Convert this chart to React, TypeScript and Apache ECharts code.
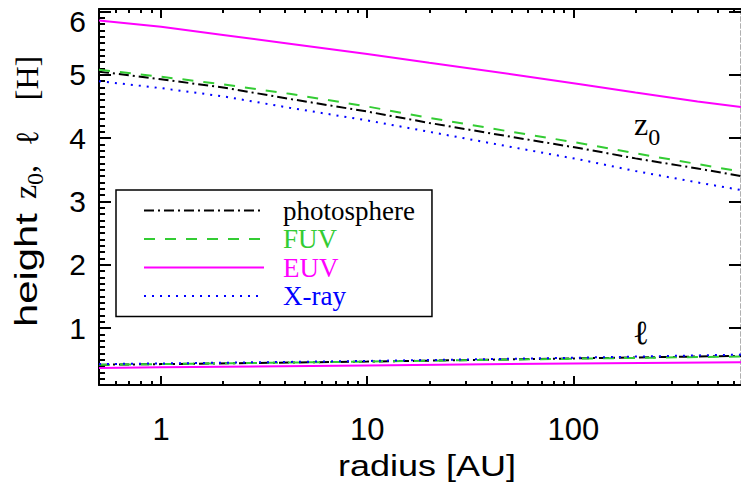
import React, { useEffect, useRef } from 'react';
import * as echarts from 'echarts';

// ---- data ----
const radiusZ0 = [0.5, 1, 2, 4.2, 10, 20, 50, 108, 200, 400, 650];
const photosphereZ0 = [5.05, 4.93, 4.8, 4.62, 4.42, 4.24, 4.02, 3.84, 3.68, 3.52, 3.4];
const fuvZ0 = [5.08, 4.97, 4.85, 4.7, 4.5, 4.32, 4.1, 3.92, 3.76, 3.59, 3.47];
const euvZ0 = [5.86, 5.76, 5.63, 5.49, 5.33, 5.19, 5.01, 4.85, 4.72, 4.58, 4.49];
const xrayZ0 = [4.9, 4.79, 4.66, 4.48, 4.28, 4.1, 3.86, 3.66, 3.48, 3.3, 3.18];

const radiusEll = [0.5, 1, 10, 100, 650];
const photosphereEll = [0.42, 0.43, 0.47, 0.52, 0.56];
const fuvEll = [0.42, 0.43, 0.47, 0.515, 0.55];
const euvEll = [0.37, 0.38, 0.41, 0.44, 0.46];
const xrayEll = [0.43, 0.44, 0.48, 0.53, 0.58];

const bandNames = ['photosphere', 'FUV', 'EUV', 'X-ray'];
const bandColors = ['#000000', '#33cc33', '#ff00ff', '#0000ff'];

const xMajorTicks = [1, 10, 100];
const xMinorTicks = [0.6, 0.7, 0.8, 0.9, 2, 3, 4, 5, 6, 7, 8, 9, 20, 30, 40, 50, 60, 70, 80, 90, 200, 300, 400, 500, 600];
const yMajorTicks = [1, 2, 3, 4, 5, 6];
const yMinorTicks = [
  0.2, 0.3, 0.4, 0.5, 0.6, 0.7, 0.8, 0.9,
  1.1, 1.2, 1.3, 1.4, 1.5, 1.6, 1.7, 1.8, 1.9,
  2.1, 2.2, 2.3, 2.4, 2.5, 2.6, 2.7, 2.8, 2.9,
  3.1, 3.2, 3.3, 3.4, 3.5, 3.6, 3.7, 3.8, 3.9,
  4.1, 4.2, 4.3, 4.4, 4.5, 4.6, 4.7, 4.8, 4.9,
  5.1, 5.2, 5.3, 5.4, 5.5, 5.6, 5.7, 5.8, 5.9, 6.0,
];

const X_MIN = 0.5;
const X_MAX = 650;
const Y_MIN = 0.1;
const Y_MAX = 6.04;

const SANS = '"Liberation Sans", Arial, sans-serif';
const SERIF = '"Liberation Serif", "Times New Roman", serif';

const bandDash: any[] = [[10, 4, 2, 4], [11, 10], 'solid', [2, 6]];

function xAxisDef(position: 'top' | 'bottom', major: boolean, withLabels: boolean) {
  return {
    type: 'log',
    logBase: 10,
    min: X_MIN,
    max: X_MAX,
    position,
    splitLine: { show: false },
    minorTick: { show: false },
    axisLine: { show: major, onZero: false, lineStyle: { color: '#000', width: 2 } },
    axisTick: {
      show: true,
      inside: true,
      length: major ? 9 : 4,
      lineStyle: { color: '#000', width: 2 },
      customValues: major ? xMajorTicks : xMinorTicks,
    },
    axisLabel: withLabels
      ? {
          show: true,
          customValues: xMajorTicks,
          color: '#000',
          fontSize: 31,
          fontFamily: SANS,
          margin: 29,
          formatter: (v: number) => String(v),
        }
      : { show: false },
  };
}

function yAxisDef(position: 'left' | 'right', major: boolean, withLabels: boolean, line: any) {
  return {
    type: 'value',
    min: Y_MIN,
    max: Y_MAX,
    position,
    splitLine: { show: false },
    axisLine: line,
    axisTick: {
      show: true,
      inside: true,
      length: major ? 12 : 6,
      lineStyle: { color: '#000', width: 2 },
      customValues: major ? yMajorTicks : yMinorTicks,
    },
    axisLabel: withLabels
      ? {
          show: true,
          customValues: yMajorTicks,
          color: '#000',
          fontSize: 30,
          fontFamily: SANS,
          margin: 13,
          formatter: (v: number) => {
            const n = Math.round(v);
            return n === 6 ? '{t|6}' : String(n);
          },
          rich: {
            t: { fontSize: 30, fontFamily: SANS, color: '#000', padding: [19, 0, 0, 0] },
          },
        }
      : { show: false },
  };
}

export default function App() {
  const ref = useRef<HTMLDivElement>(null);
  useEffect(() => {
    if (!ref.current) return;
    const chart = echarts.init(ref.current, undefined, { renderer: 'svg' });

    const series: any[] = [];
    const z0Sets = [photosphereZ0, fuvZ0, euvZ0, xrayZ0];
    const ellSets = [photosphereEll, fuvEll, euvEll, xrayEll];
    [2, 0, 1, 3].forEach((i) => {
      series.push({
        name: bandNames[i],
        type: 'line',
        xAxisIndex: 0,
        yAxisIndex: 0,
        symbol: 'none',
        showSymbol: false,
        data: radiusZ0.map((r, k) => [r, z0Sets[i][k]]),
        lineStyle: { color: bandColors[i], width: 2, type: bandDash[i] },
        itemStyle: { color: bandColors[i] },
      });
    });
    [2, 0, 1, 3].forEach((i) => {
      series.push({
        name: bandNames[i],
        type: 'line',
        xAxisIndex: 0,
        yAxisIndex: 0,
        symbol: 'none',
        showSymbol: false,
        data: radiusEll.map((r, k) => [r, ellSets[i][k]]),
        lineStyle: { color: bandColors[i], width: 2, type: bandDash[i] },
        itemStyle: { color: bandColors[i] },
      });
    });

    const subRich = (pad: number) => ({
      z: { fontFamily: SERIF, fontSize: 32, lineHeight: 32, fill: '#000', color: '#000' },
      s: { fontFamily: SERIF, fontSize: 24, lineHeight: 24, padding: [pad, 0, 0, 0], fill: '#000', color: '#000' },
    });

    chart.setOption({
      animation: false,
      backgroundColor: '#ffffff',
      grid: { left: 99, right: 0, top: 9, bottom: 104, containLabel: false, outerBoundsMode: 'none' },
      xAxis: [
        xAxisDef('bottom', true, true),
        xAxisDef('bottom', false, false),
        xAxisDef('top', true, false),
        xAxisDef('top', false, false),
      ],
      yAxis: [
        yAxisDef('left', true, true, { show: true, onZero: false, lineStyle: { color: '#000', width: 2 } }),
        yAxisDef('left', false, false, { show: false, onZero: false }),
        yAxisDef('right', true, false, { show: true, onZero: false, lineStyle: { color: '#b0b0b0', width: 2, type: [4, 3] } }),
      ],
      legend: {
        show: true,
        orient: 'vertical',
        left: 116,
        top: 190,
        padding: [7, 17, 7, 27],
        itemWidth: 120,
        itemHeight: 14,
        itemGap: 1.5,
        borderColor: '#000',
        borderWidth: 1.5,
        selectedMode: false,
        itemStyle: { opacity: 0, color: 'transparent', borderWidth: 0 },
        textStyle: { fontFamily: SERIF, fontSize: 27, padding: [0, 0, 0, 14] },
        data: bandNames.map((n, i) => ({ name: n, textStyle: { color: bandColors[i] } })),
      },
      graphic: [
        {
          type: 'text',
          x: 427,
          y: 466,
          scaleX: 1.2,
          style: { text: 'radius [AU]', fontFamily: SANS, fontSize: 30, fill: '#000', align: 'center', verticalAlign: 'middle' },
        },
        {
          type: 'text',
          x: 26,
          y: 270,
          rotation: Math.PI / 2,
          scaleX: 1.35,
          style: { text: 'height', fontFamily: SANS, fontSize: 31, fill: '#000', align: 'center', verticalAlign: 'middle' },
        },
        {
          type: 'text',
          x: 25,
          y: 182,
          rotation: Math.PI / 2,
          style: { text: '{z|z}{s|0}{z|,}', rich: subRich(20), fill: '#000', align: 'center', verticalAlign: 'middle' },
        },
        {
          type: 'text',
          x: 27,
          y: 138,
          rotation: Math.PI / 2,
          style: { text: 'ℓ', fontFamily: SERIF, fontSize: 32, fill: '#000', align: 'center', verticalAlign: 'middle' },
        },
        {
          type: 'text',
          x: 27,
          y: 78,
          rotation: Math.PI / 2,
          style: { text: '[H]', fontFamily: SERIF, fontSize: 32, fill: '#000', align: 'center', verticalAlign: 'middle' },
        },
        {
          type: 'text',
          x: 634,
          y: 124,
          style: { text: '{z|z}{s|0}', rich: subRich(25), fill: '#000', align: 'left', verticalAlign: 'middle' },
        },
        {
          type: 'text',
          x: 641,
          y: 332,
          style: { text: 'ℓ', fontFamily: SERIF, fontSize: 34, fill: '#000', align: 'center', verticalAlign: 'middle' },
        },
      ],
      series,
    });

    return () => {
      chart.dispose();
    };
  }, []);

  return <div ref={ref} style={{ position: 'fixed', left: 0, top: 0, width: 741, height: 489 }} />;
}
